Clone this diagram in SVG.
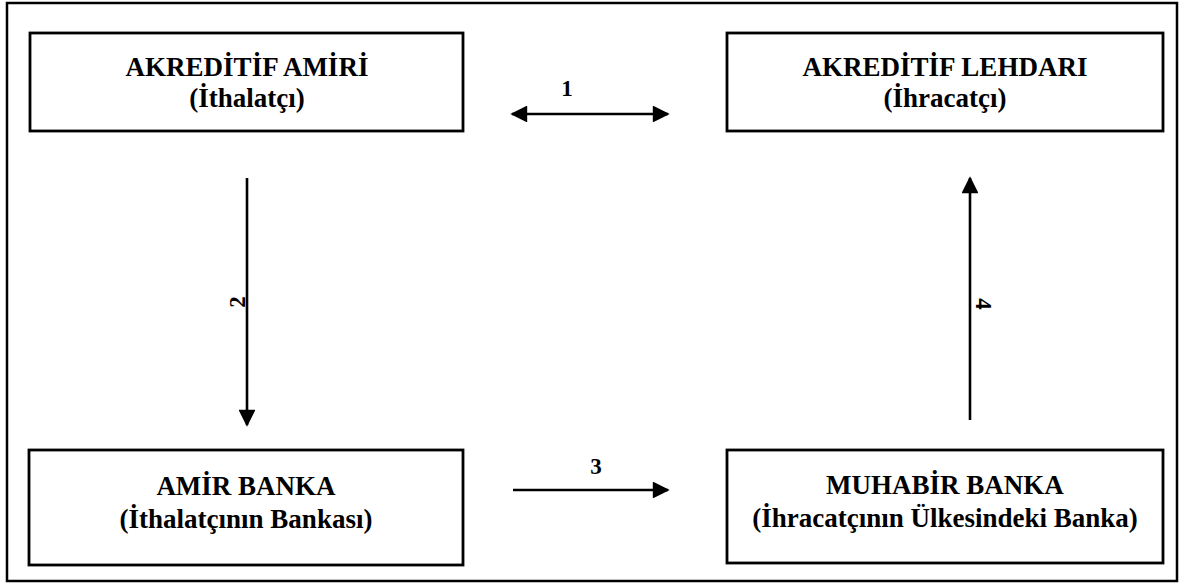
<svg xmlns="http://www.w3.org/2000/svg" width="1188" height="587" viewBox="0 0 1188 587">
  <style>
    .frame { fill: none; stroke: #000; stroke-width: 2.5; }
    .box { fill: #fff; stroke: #000; stroke-width: 2.8; }
    .t { font-family: "Liberation Serif", "Times New Roman", serif; font-weight: bold; font-size: 27px; fill: #000; text-anchor: middle; }
    .num { font-family: "Liberation Serif", "Times New Roman", serif; font-weight: bold; font-size: 23px; fill: #000; text-anchor: middle; }
    .conn { fill: none; stroke: #000; stroke-width: 2.6; }
  </style>
  <defs>
    <marker id="head" viewBox="0 0 10 10" refX="9" refY="5" markerWidth="7" markerHeight="6.5" markerUnits="strokeWidth" orient="auto-start-reverse">
      <path d="M0,0 L10,5 L0,10 Z" fill="#000"/>
    </marker>
  </defs>

  <rect width="1188" height="587" fill="#fff"/>
  <rect class="frame" x="7" y="3" width="1170" height="578"/>

  <g id="amir">
    <rect class="box" x="30" y="33" width="433" height="98"/>
    <text class="t" x="247" y="76">AKREDİTİF AMİRİ</text>
    <text class="t" x="247" y="107">(İthalatçı)</text>
  </g>

  <g id="lehdar">
    <rect class="box" x="727" y="33" width="436" height="98"/>
    <text class="t" x="945" y="76">AKREDİTİF LEHDARI</text>
    <text class="t" x="945" y="107">(İhracatçı)</text>
  </g>

  <g id="amir-banka">
    <rect class="box" x="29" y="450" width="434" height="115"/>
    <text class="t" x="246" y="495">AMİR BANKA</text>
    <text class="t" x="246" y="528">(İthalatçının Bankası)</text>
  </g>

  <g id="muhabir-banka">
    <rect class="box" x="727" y="450" width="436" height="113"/>
    <text class="t" x="945" y="494">MUHABİR BANKA</text>
    <text class="t" x="945" y="527">(İhracatçının Ülkesindeki Banka)</text>
  </g>

  <g id="connectors">
    <line class="conn" x1="512" y1="114" x2="668" y2="114" marker-start="url(#head)" marker-end="url(#head)"/>
    <text class="num" x="567" y="96">1</text>

    <line class="conn" x1="247" y1="178" x2="247" y2="425" marker-end="url(#head)"/>
    <text class="num" transform="translate(245,302) rotate(-90)" x="0" y="0">2</text>

    <line class="conn" x1="513" y1="490" x2="668" y2="490" marker-end="url(#head)"/>
    <text class="num" x="596" y="474">3</text>

    <line class="conn" x1="970" y1="420" x2="970" y2="178" marker-end="url(#head)"/>
    <text class="num" transform="translate(976,304) rotate(90)" x="0" y="0">4</text>
  </g>
</svg>
